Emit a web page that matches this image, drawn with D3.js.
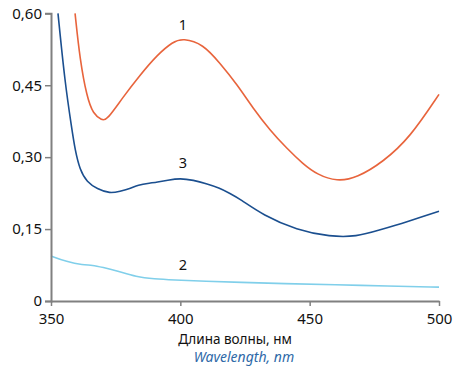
<!DOCTYPE html>
<html>
<head>
<meta charset="utf-8">
<script src="https://cdn.jsdelivr.net/npm/d3@7"></script>
<style>
  body { margin: 0; background: #fff; }
  svg { display: block; font-family: "Noto Sans", "Open Sans", sans-serif; }
</style>
</head>
<body>
<svg width="455" height="370"></svg>
<script>
// wavelength, nm and absorbance
var wl1 = [359.3, 361.2, 363.9, 366.3, 369.7, 371.6, 377.8, 384.4, 391, 397.2, 401, 408.8, 415.3, 421.9, 428.1, 434.7, 441.2, 447.4, 452.8, 460.6, 468.3, 478.4, 488.8, 500];
var abs1 = [0.600, 0.503, 0.425, 0.390, 0.377, 0.377, 0.425, 0.471, 0.513, 0.541, 0.548, 0.536, 0.496, 0.452, 0.402, 0.356, 0.318, 0.286, 0.264, 0.249, 0.257, 0.290, 0.341, 0.431];

var wl3 = [352.7, 355.4, 358, 359.3, 361.2, 363.9, 367.8, 372.8, 376.7, 380.5, 383.6, 388.3, 391, 395, 400, 405, 410, 415, 419, 423, 432, 445, 458, 468, 477, 487.6, 500];
var abs3 = [0.600, 0.455, 0.361, 0.315, 0.273, 0.248, 0.234, 0.224, 0.229, 0.234, 0.242, 0.246, 0.248, 0.252, 0.256, 0.252, 0.245, 0.236, 0.225, 0.213, 0.179, 0.148, 0.134, 0.134, 0.148, 0.165, 0.187];

var wl2 = [350, 356, 362.4, 366, 370, 375.5, 383, 390, 397, 410, 423, 440, 460, 480, 500];
var abs2 = [0.094, 0.082, 0.075, 0.075, 0.070, 0.063, 0.050, 0.046, 0.044, 0.041, 0.039, 0.036, 0.034, 0.031, 0.029];

var xTicks = [350, 400, 450, 500];
var yTicks = [0, 0.15, 0.30, 0.45, 0.60];
var yTickLabels = ["0", "0,15", "0,30", "0,45", "0,60"];

var series = [
  { label: "1", wl: wl1, abs: abs1, color: "#e8643c", lx: 401, ly: 0.566 },
  { label: "3", wl: wl3, abs: abs3, color: "#1b4f8f", lx: 401, ly: 0.277 },
  { label: "2", wl: wl2, abs: abs2, color: "#80cfea", lx: 401, ly: 0.065 }
];

var svg = d3.select("svg");
var mLeft = 51, mRight = 439, mTop = 13.3, mBottom = 301;

var x = d3.scaleLinear().domain([350, 500]).range([mLeft, mRight]);
var y = d3.scaleLinear().domain([0, 0.6]).range([mBottom, mTop]);

var line = d3.line()
  .x(function(d) { return x(d[0]); })
  .y(function(d) { return y(d[1]); })
  .curve(d3.curveBasis);

series.forEach(function(s) {
  var pts = s.wl.map(function(w, i) { return [w, s.abs[i]]; });
  svg.append("path")
    .attr("d", line(pts))
    .attr("fill", "none")
    .attr("stroke", s.color)
    .attr("stroke-width", 1.6);
  svg.append("text")
    .attr("x", x(s.lx))
    .attr("y", y(s.ly))
    .attr("text-anchor", "middle")
    .attr("font-size", "14.5px")
    .attr("fill", "#111")
    .text(s.label);
});

// axes
var yAxis = svg.append("g")
  .attr("transform", "translate(" + mLeft + ",0)")
  .call(d3.axisLeft(y).tickValues(yTicks).tickSize(6).tickPadding(3).tickSizeOuter(6)
    .tickFormat(function(d, i) { return yTickLabels[i]; }));

var xAxis = svg.append("g")
  .attr("transform", "translate(0," + mBottom + ")")
  .call(d3.axisBottom(x).tickValues(xTicks).tickSize(5).tickPadding(7).tickSizeOuter(0));

[xAxis, yAxis].forEach(function(g) {
  g.selectAll(".domain").attr("stroke", "#808080").attr("stroke-width", 2);
  g.selectAll(".tick line").attr("stroke", "#808080").attr("stroke-width", 1.5);
  g.selectAll(".tick text")
    .attr("fill", "#111")
    .style("font-family", "'Noto Sans', sans-serif")
    .style("font-size", "15px");
});

svg.append("text")
  .attr("x", 235)
  .attr("y", 344)
  .attr("text-anchor", "middle")
  .attr("font-size", "13.5px")
  .attr("fill", "#111")
  .text("Длина волны, нм");

svg.append("text")
  .attr("x", 244)
  .attr("y", 362)
  .attr("text-anchor", "middle")
  .attr("font-size", "14px")
  .attr("font-style", "italic")
  .attr("fill", "#2e69a8")
  .text("Wavelength, nm");
</script>
</body>
</html>
